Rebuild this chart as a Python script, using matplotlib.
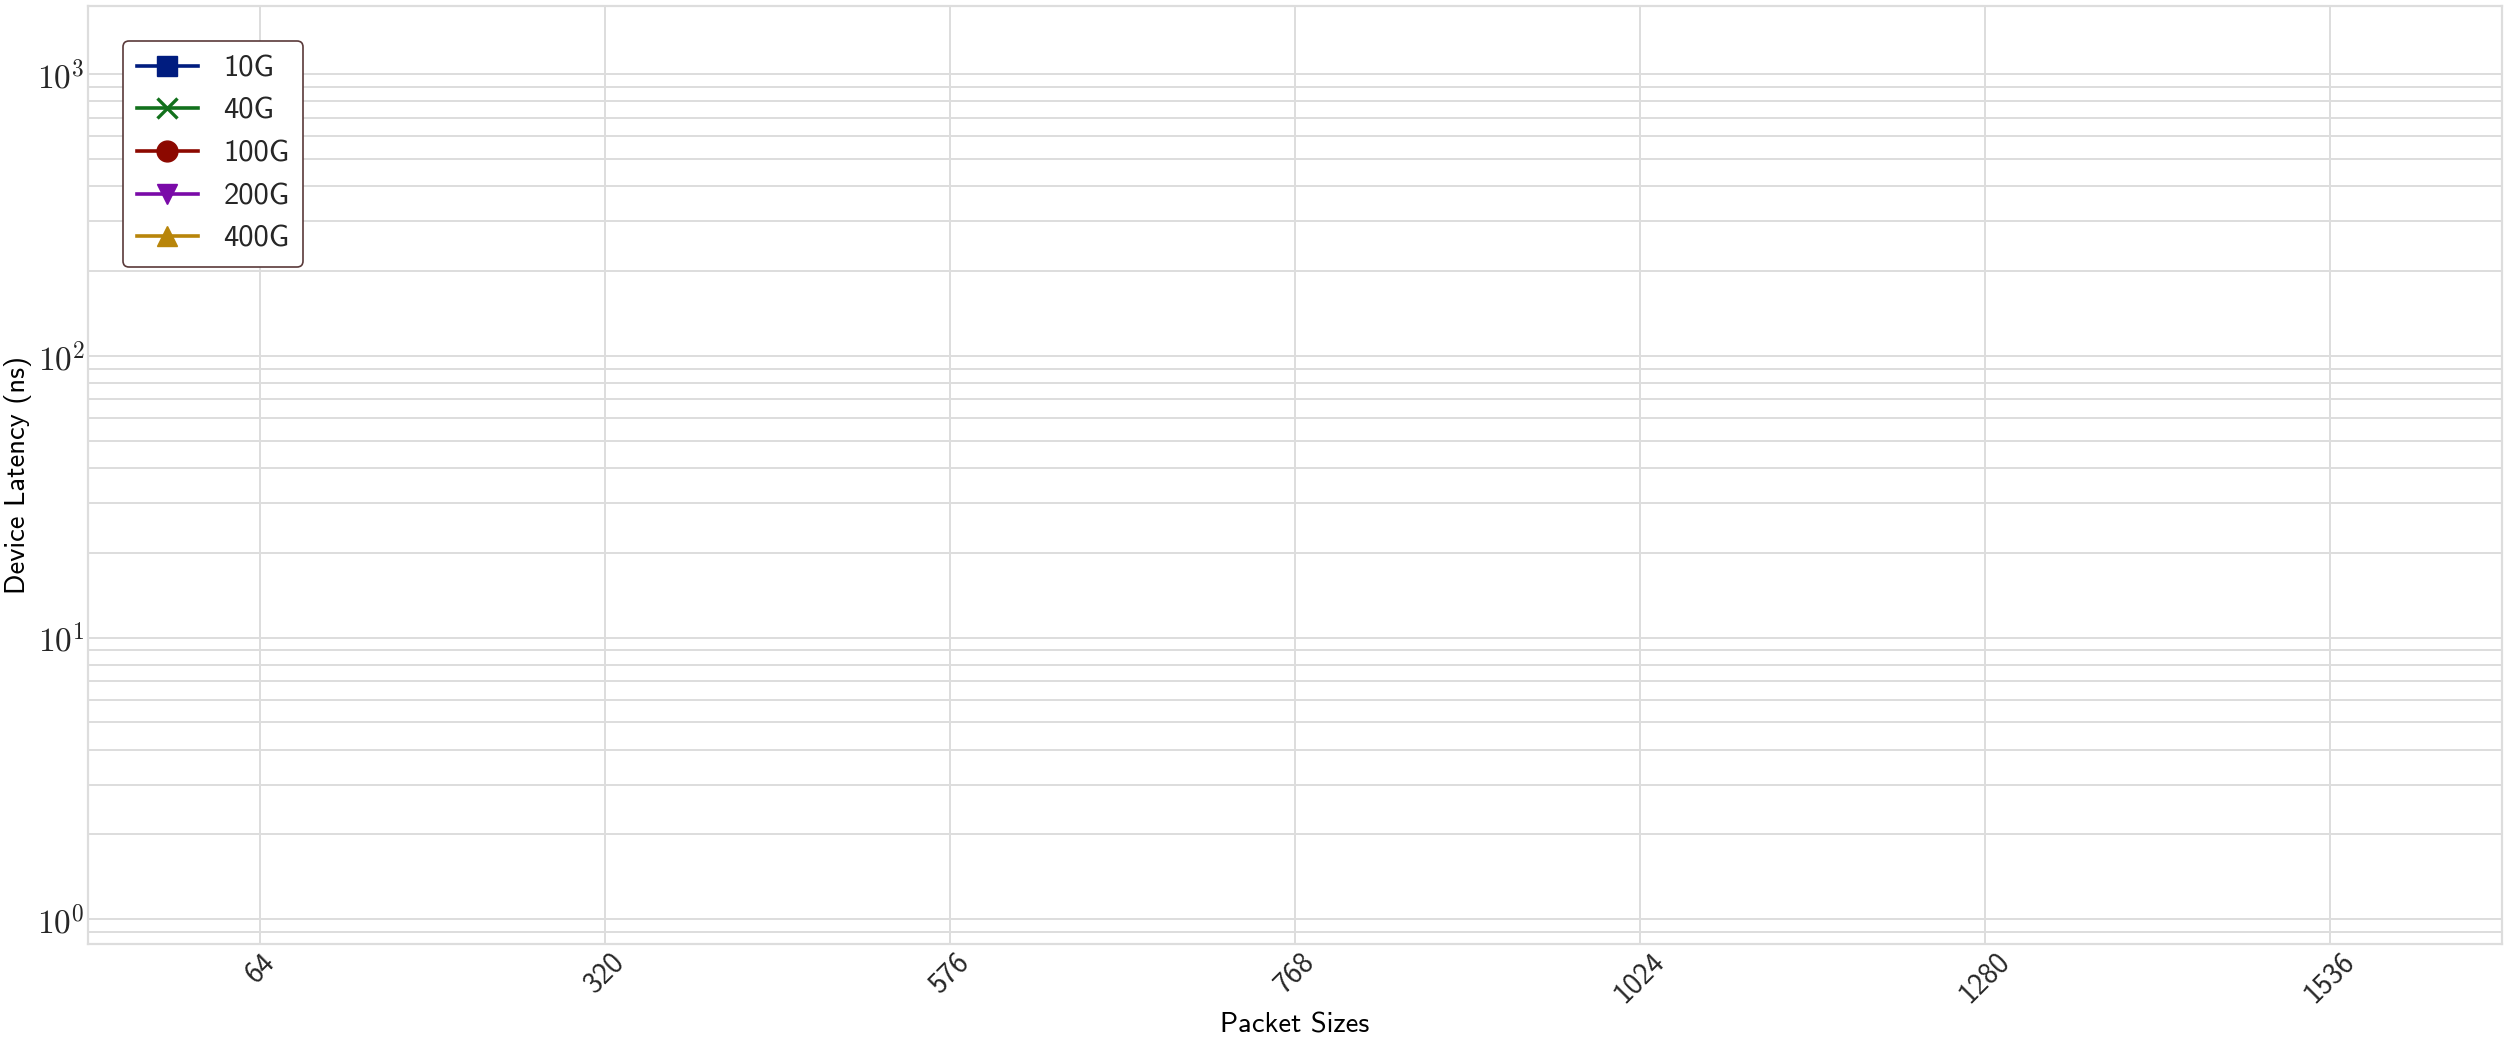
import numpy as np
import matplotlib
matplotlib.use("Agg")
import matplotlib.pyplot as plt
from matplotlib.ticker import FixedLocator, FuncFormatter, LogLocator, NullFormatter

# packet sizes on the x axis (bytes), one slot each
packet_sizes = ["64", "320", "576", "768", "1024", "1280", "1536"]

# measured device latency per link speed (ns); no samples were recorded
lat_10g = []
lat_40g = []
lat_100g = []
lat_200g = []
lat_400g = []

series = [
    ("10G", lat_10g, "#001c7f", "s"),
    ("40G", lat_40g, "#12711c", "x"),
    ("100G", lat_100g, "#8c0800", "o"),
    ("200G", lat_200g, "#7a0aa8", "v"),
    ("400G", lat_400g, "#b8850a", "^"),
]

plt.rcParams["font.family"] = ["cmss10", "DejaVu Sans"]
plt.rcParams["mathtext.fontset"] = "cm"
plt.rcParams["axes.unicode_minus"] = False
plt.rcParams["text.color"] = "#262626"
plt.rcParams["xtick.color"] = "#262626"
plt.rcParams["ytick.color"] = "#262626"

fig = plt.figure(figsize=(25.04, 10.43), dpi=100)
ax = fig.add_axes([0.035, 0.0952, 0.9643, 0.8990])

x = np.arange(len(packet_sizes))
for name, vals, col, mk in series:
    ax.plot(x[:len(vals)], vals, color=col, marker=mk, markersize=15,
            linewidth=2.6, markeredgewidth=2.4 if mk == "x" else 1,
            label=name)

ax.set_yscale("log")
ax.set_ylim(0.819, 1742)
ax.set_xlim(-0.5, len(packet_sizes) - 0.5)

ax.xaxis.set_major_locator(FixedLocator(x))
ax.set_xticklabels(packet_sizes, rotation=45, ha="center", fontsize=21)

ax.yaxis.set_major_locator(LogLocator(base=10, numticks=10))
ax.yaxis.set_minor_locator(LogLocator(base=10, subs=np.arange(2, 10), numticks=20))
ax.yaxis.set_major_formatter(FuncFormatter(lambda v, p: r"$10^{%d}$" % round(np.log10(v))))
ax.yaxis.set_minor_formatter(NullFormatter())
ax.tick_params(axis="y", which="major", labelsize=24, length=0, pad=2)
ax.tick_params(axis="y", which="minor", length=0)
ax.tick_params(axis="x", length=0, pad=3)

ax.grid(True, which="major", color="#dddddd", linewidth=1.4)
ax.grid(True, which="minor", axis="y", color="#dddddd", linewidth=1.4)
ax.set_axisbelow(True)
for sp in ax.spines.values():
    sp.set_color("#dddddd")
    sp.set_linewidth(1.6)

ax.set_xlabel("Packet Sizes", fontsize=20.5, labelpad=3)
ax.set_ylabel("Device Latency (ns)", fontsize=20.5, labelpad=4)

leg = ax.legend(loc="upper left", fontsize=22, borderaxespad=1.15,
                borderpad=0.45, labelspacing=0.5, handlelength=2.0,
                handletextpad=0.85, fancybox=True, framealpha=1)
leg.get_frame().set_edgecolor("#5a3a3a")
leg.get_frame().set_linewidth(1.2)

fig.savefig("out.png", dpi=100)
